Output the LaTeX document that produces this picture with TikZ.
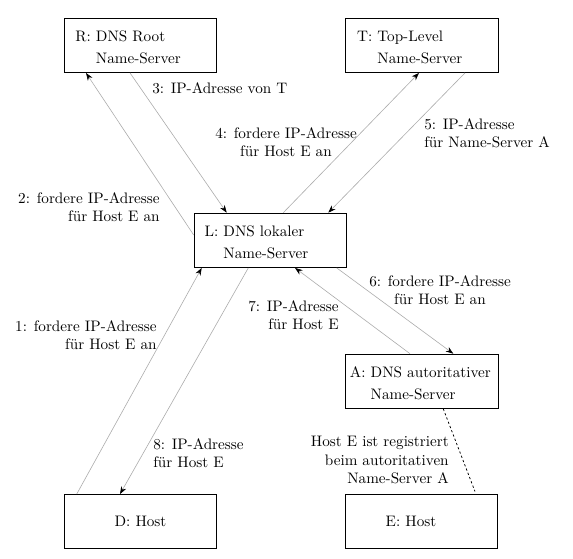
\documentclass[tikz,border=0pt]{standalone}
\usetikzlibrary{arrows.meta,calc}
\begin{document}
\begin{tikzpicture}[x=0.658pt,y=-0.658pt,
  box/.style={draw=black,line width=0.8pt,minimum width=100.28pt,minimum height=35.53pt,inner sep=0pt},
  txt/.style={inner sep=0pt,font=\fontsize{10}{12}\selectfont},
  boxtxt/.style={txt,align=left,anchor=west},
  conn/.style={draw=gray!65,line width=0.4pt,-{Stealth[length=5pt,width=3.6pt,color=black]}},
  reg/.style={draw=black,line width=0.5pt,dash pattern=on 1.5pt off 1.5pt}]
\useasboundingbox (0,0) rectangle (573,559);
% boxes
\node[box] (R) at (140.5,45.3) {};
\node[box] (T) at (422,45.3) {};
\node[box] (L) at (270.5,240.3) {};
\node[box] (A) at (422,381.3) {};
\node[box] (D) at (140.5,521.7) {};
\node[box] (E) at (421.5,521.7) {};
% box texts
\node[boxtxt] (Rt) at ($(R.west)+(11.5,2)$) {R: DNS Root\\[3pt]\phantom{R:~}Name-Server};
\node[boxtxt] (Tt) at ($(T.west)+(11.7,2)$) {T: Top-Level\\[3pt]\phantom{T:~}Name-Server};
\node[boxtxt] (Lt) at ($(L.west)+(10.7,2)$) {L: DNS lokaler\\[3pt]\phantom{L:~}Name-Server};
\node[boxtxt] (At) at ($(A.west)+(4.5,2)$) {A: DNS autoritativer\\[3pt]\phantom{A:~}Name-Server};
\node[txt] (Dt) at (D) {D: Host};
\node[txt] (Et) at ($(E)+(-10.5,0)$) {E: Host};
% connectors
\draw[conn] ($(D.north)+(-63.8,0)$) -- ($(L.south)+(-68.8,0)$);
\draw[conn] ($(L.west)+(0,-5.3)$) -- ($(R.south)+(-54.5,0)$);
\draw[conn] ($(R.south)+(-10.5,0)$) -- ($(L.north)+(-43.8,0)$);
\draw[conn] ($(L.north)+(12.8,0)$) -- ($(T.south)+(-3,0)$);
\draw[conn] ($(T.south)+(43,0)$) -- ($(L.north)+(57.8,0)$);
\draw[conn] ($(L.south)+(66.2,0)$) -- ($(A.north)+(31.3,0)$);
\draw[conn] ($(A.north)+(-12,0)$) -- ($(L.south)+(24.5,0)$);
\draw[conn] ($(L.south)+(-22.2,0)$) -- ($(D.north)+(-20.5,0)$);
\draw[reg] ($(A.south)+(21.3,0)$) -- ($(E.north)+(53.5,-2.6)$);
% labels
\node[txt,align=right,anchor=east] (l1) at (157,335) {1: fordere IP-Adresse\\für Host E an};
\node[txt,align=right,anchor=east] (l2) at (160,207) {2: fordere IP-Adresse\\für Host E an};
\node[txt,anchor=west] (l3) at (152,88) {3: IP-Adresse von T};
\node[txt,align=center] (l4) at (286,142) {4: fordere IP-Adresse\\für Host E an};
\node[txt,align=left,anchor=west] (l5) at (424,133) {5: IP-Adresse\\für Name-Server A};
\node[txt,align=center] (l6) at (440,290) {6: fordere IP-Adresse\\für Host E an};
\node[txt,align=right,anchor=east] (l7) at (339,315) {7: IP-Adresse\\für Host E};
\node[txt,align=left,anchor=west] (l8) at (153,453.5) {8: IP-Adresse\\für Host E};
\node[txt,align=right,anchor=east] (lh) at (449,460) {Host E ist registriert\\beim autoritativen\\Name-Server A};
\end{tikzpicture}
\end{document}
